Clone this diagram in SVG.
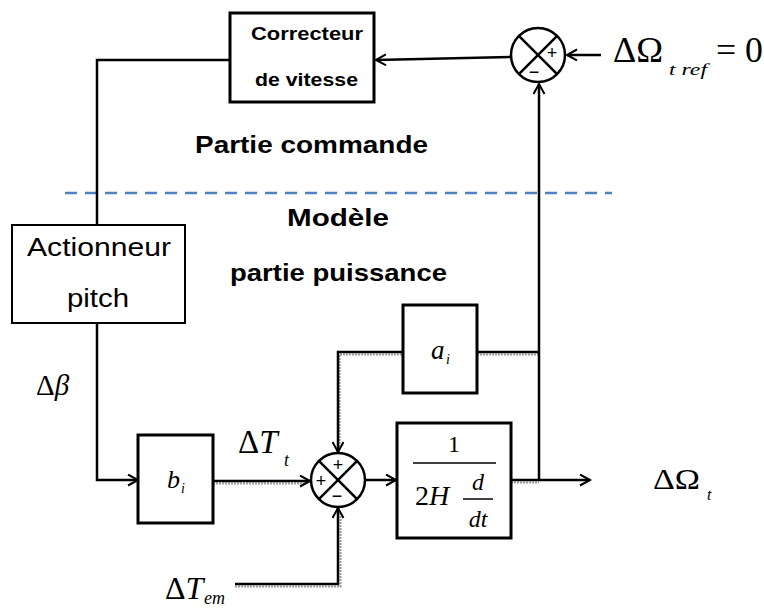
<svg xmlns="http://www.w3.org/2000/svg" width="764" height="610" viewBox="0 0 764 610">
<style>
.box{fill:#fff;stroke:#000;stroke-width:3}
.thin{fill:#fff;stroke:#000;stroke-width:2}
.ln{fill:none;stroke:#000;stroke-width:2.5}
.sh{fill:none;stroke:#9a9a9a;stroke-width:2;stroke-dasharray:2 1}
.sum{fill:#fff;stroke:#000;stroke-width:2.5}
.tb{font-family:"Liberation Sans",Arial,sans-serif;font-weight:bold;fill:#000}
.tr{font-family:"Liberation Sans",Arial,sans-serif;fill:#000}
.m{font-family:"Liberation Serif","Times New Roman",serif;fill:#000}
.mi{font-family:"Liberation Serif","Times New Roman",serif;font-style:italic;fill:#000}
.sg{font-family:"Liberation Sans",Arial,sans-serif;font-size:18px;fill:#000}
</style>
<defs>
<marker id="arr" markerUnits="userSpaceOnUse" markerWidth="14" markerHeight="14" refX="11" refY="6" orient="auto">
<path d="M1,0.5 L11,6 L1,11.5" fill="none" stroke="#000" stroke-width="2"/>
</marker>
</defs>
<rect width="764" height="610" fill="#fff"/>

<line x1="65" y1="193" x2="612" y2="193" stroke="#4f81bd" stroke-width="2.5" stroke-dasharray="12 8"/>

<g id="labels">
<text class="tb" x="195" y="153" font-size="24" textLength="233" lengthAdjust="spacingAndGlyphs">Partie commande</text>
<text class="tb" x="287" y="226" font-size="24" textLength="102" lengthAdjust="spacingAndGlyphs">Modèle</text>
<text class="tb" x="230" y="281" font-size="24" textLength="217" lengthAdjust="spacingAndGlyphs">partie puissance</text>
</g>

<g id="connectors">
<polyline class="sh" points="213,483.5 306,483.5"/>
<polyline class="sh" points="339.5,450 339.5,354.5 403,354.5"/>
<polyline class="sh" points="477,354.5 539,354.5"/>
<polyline class="sh" points="511,482.5 539,482.5"/>
<polyline class="sh" points="235,586.5 340.5,586.5 340.5,512"/>
<line class="ln" x1="511" y1="57" x2="376" y2="60" marker-end="url(#arr)"/>
<line class="ln" x1="601" y1="55" x2="567" y2="55" marker-end="url(#arr)"/>
<line class="ln" x1="539" y1="480" x2="539" y2="84" marker-end="url(#arr)"/>
<polyline class="ln" points="230,60 97,60 97,225"/>
<polyline class="ln" points="97,323 97,480 138,480" marker-end="url(#arr)"/>
<line class="ln" x1="213" y1="481" x2="310" y2="481" marker-end="url(#arr)"/>
<line class="ln" x1="365" y1="480" x2="396" y2="480" marker-end="url(#arr)"/>
<line class="ln" x1="511" y1="480" x2="590" y2="480" marker-end="url(#arr)"/>
<polyline class="ln" points="539,352 477,352"/>
<polyline class="ln" points="403,352 338,352 338,452" marker-end="url(#arr)"/>
<polyline class="ln" points="235,584 338,584 338,508" marker-end="url(#arr)"/>
</g>

<g id="correcteur">
<rect class="box" x="230" y="13" width="144" height="89"/>
<text class="tb" x="251" y="40" font-size="18" textLength="112" lengthAdjust="spacingAndGlyphs">Correcteur</text>
<text class="tb" x="255" y="86" font-size="18" textLength="103" lengthAdjust="spacingAndGlyphs">de vitesse</text>
</g>

<g id="sum1">
<circle class="sum" cx="538" cy="55" r="27"/>
<line class="ln" x1="518.9" y1="35.9" x2="557.1" y2="74.1"/>
<line class="ln" x1="557.1" y1="35.9" x2="518.9" y2="74.1"/>
<text class="sg" x="552" y="59" text-anchor="middle">+</text>
<text class="sg" x="534" y="78" text-anchor="middle">−</text>
</g>

<g id="ref">
<text class="m" x="613" y="62" font-size="36" textLength="50" lengthAdjust="spacingAndGlyphs">ΔΩ</text>
<text class="mi" x="669" y="75" font-size="17" textLength="38" lengthAdjust="spacingAndGlyphs">t ref</text>
<text class="m" x="716" y="62" font-size="36" textLength="47" lengthAdjust="spacingAndGlyphs">= 0</text>
</g>

<g id="actionneur">
<rect class="thin" x="12" y="225" width="173" height="98"/>
<text class="tr" x="27" y="256" font-size="26" textLength="144" lengthAdjust="spacingAndGlyphs">Actionneur</text>
<text class="tr" x="67" y="307" font-size="26" textLength="62" lengthAdjust="spacingAndGlyphs">pitch</text>
</g>

<g id="dbeta">
<text class="m" x="36" y="395" font-size="29">Δ<tspan class="mi">β</tspan></text>
</g>

<g id="bi">
<rect class="box" x="138" y="435" width="75" height="88"/>
<text class="mi" x="167" y="488" font-size="26">b</text>
<text class="mi" x="181" y="493" font-size="14">i</text>
</g>

<g id="dTt">
<text class="m" x="238" y="453" font-size="33">Δ<tspan class="mi">T</tspan></text>
<text class="mi" x="284" y="466" font-size="18">t</text>
</g>

<g id="sum2">
<circle class="sum" cx="338" cy="480" r="27"/>
<line class="ln" x1="318.9" y1="460.9" x2="357.1" y2="499.1"/>
<line class="ln" x1="357.1" y1="460.9" x2="318.9" y2="499.1"/>
<text class="sg" x="338" y="471" text-anchor="middle">+</text>
<text class="sg" x="321" y="487" text-anchor="middle">+</text>
<text class="sg" x="337" y="502" text-anchor="middle">−</text>
</g>

<g id="ai">
<rect class="box" x="403" y="305" width="74" height="88"/>
<text class="mi" x="431" y="359" font-size="27">a</text>
<text class="mi" x="446" y="364" font-size="14">i</text>
</g>

<g id="inertia">
<rect class="box" x="397" y="423" width="114" height="115"/>
<text class="m" x="454" y="452" font-size="24" text-anchor="middle">1</text>
<line x1="413" y1="463" x2="496" y2="463" stroke="#000" stroke-width="1.5"/>
<text class="m" x="415" y="505" font-size="28">2<tspan class="mi">H</tspan></text>
<text class="mi" x="478" y="490" font-size="24" text-anchor="middle">d</text>
<line x1="463" y1="499" x2="493" y2="499" stroke="#000" stroke-width="1.5"/>
<text class="mi" x="478" y="527" font-size="24" text-anchor="middle">dt</text>
</g>

<g id="dOmega">
<text class="m" x="653" y="489" font-size="30" textLength="47" lengthAdjust="spacingAndGlyphs">ΔΩ</text>
<text class="mi" x="707" y="500" font-size="16">t</text>
</g>

<g id="dTem">
<text class="m" x="165" y="599" font-size="32">Δ<tspan class="mi">T</tspan></text>
<text class="mi" x="204" y="604" font-size="18">em</text>
</g>
</svg>
